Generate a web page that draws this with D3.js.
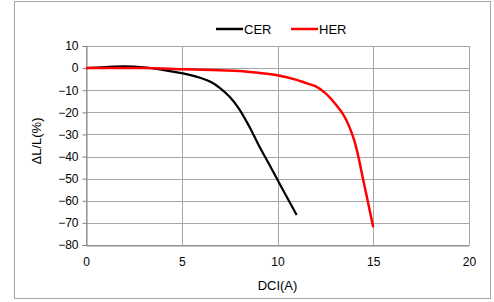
<!DOCTYPE html>
<html><head><meta charset="utf-8">
<script src="https://cdn.jsdelivr.net/npm/d3@7"></script>
<style>body{margin:0;background:#fff}svg{display:block}</style>
</head><body>
<svg id="c" width="494" height="302"></svg>
<script>
const cerX = [0,1,2,3,4,5,6,6.5,7,7.5,8,8.5,9,9.5,10,10.5,11];
const cerY = [0,0.5,0.8,0.4,-0.8,-2.3,-4.5,-6.2,-9,-13,-18.5,-26,-34.5,-42.5,-50.5,-58.5,-66.4];
const herX = [0,3,5,7,8,9,10,11,11.5,12,12.5,13,13.5,14,14.5,15];
const herY = [0,0,-0.5,-1,-1.3,-2.1,-3.2,-5.3,-6.8,-8.3,-11.3,-16,-22,-32.5,-51.5,-72];
const xTicks = [0,5,10,15,20];
const yTicks = [10,0,-10,-20,-30,-40,-50,-60,-70,-80];
const seriesNames = ["CER","HER"];
const colors = ["#000000","#ff0000"];

const svg = d3.select("#c");
const font = "Liberation Sans, Arial, sans-serif";
svg.append("rect").attr("x",14.5).attr("y",1.5).attr("width",476).attr("height",297)
  .attr("fill","#fff").attr("stroke","#a6a6a6");

const x = d3.scaleLinear().domain([0,20]).range([86,469]);
const y = d3.scaleLinear().domain([-80,10]).range([245,46]);

const g = svg.append("g");
g.selectAll(".hg").data(yTicks).join("line")
  .attr("x1",x(0)).attr("x2",x(20)).attr("y1",d=>Math.round(y(d))+0.5).attr("y2",d=>Math.round(y(d))+0.5)
  .attr("stroke","#a6a6a6").attr("stroke-width",1);
g.selectAll(".vg").data(xTicks).join("line")
  .attr("y1",y(10)).attr("y2",y(-80)).attr("x1",d=>Math.round(x(d))+0.5).attr("x2",d=>Math.round(x(d))+0.5)
  .attr("stroke","#a6a6a6").attr("stroke-width",1);

const xa = svg.append("g").attr("transform",`translate(0,${Math.round(y(-80))+0.5})`)
  .call(d3.axisBottom(x).tickValues(xTicks).tickSize(0).tickPadding(12));
const ya = svg.append("g").attr("transform",`translate(${Math.round(x(0))+0.5},0)`)
  .call(d3.axisLeft(y).tickValues(yTicks).tickSize(4).tickPadding(4));
[xa,ya].forEach(a=>{
  a.select(".domain").attr("stroke","#868686");
  a.selectAll(".tick line").attr("stroke","#868686");
  a.selectAll("text").attr("font-family",font).attr("font-size",12).attr("fill","#000");
});

const line = d3.line().x(d=>x(d[0])).y(d=>y(d[1])).curve(d3.curveCatmullRom.alpha(0.5));
const data = [d3.zip(cerX,cerY), d3.zip(herX,herY)];
svg.selectAll(".s").data(data).join("path")
  .attr("d",line).attr("fill","none")
  .attr("stroke",(d,i)=>colors[i]).attr("stroke-width",(d,i)=>i?2.5:2.2);

const lx = [216,291];
seriesNames.forEach((n,i)=>{
  svg.append("line").attr("x1",lx[i]).attr("x2",lx[i]+27).attr("y1",29).attr("y2",29)
    .attr("stroke",colors[i]).attr("stroke-width",2.5);
  svg.append("text").attr("x",lx[i]+28).attr("y",33.5).text(n)
    .attr("font-family",font).attr("font-size",13);
});

svg.append("text").attr("x",x(10)).attr("y",290).attr("text-anchor","middle")
  .attr("font-family",font).attr("font-size",13).text("DCI(A)");
svg.append("text").attr("transform","translate(41,141) rotate(-90)").attr("text-anchor","middle")
  .attr("font-family",font).attr("font-size",13).text("ΔL/L(%)");
</script>
</body></html>
